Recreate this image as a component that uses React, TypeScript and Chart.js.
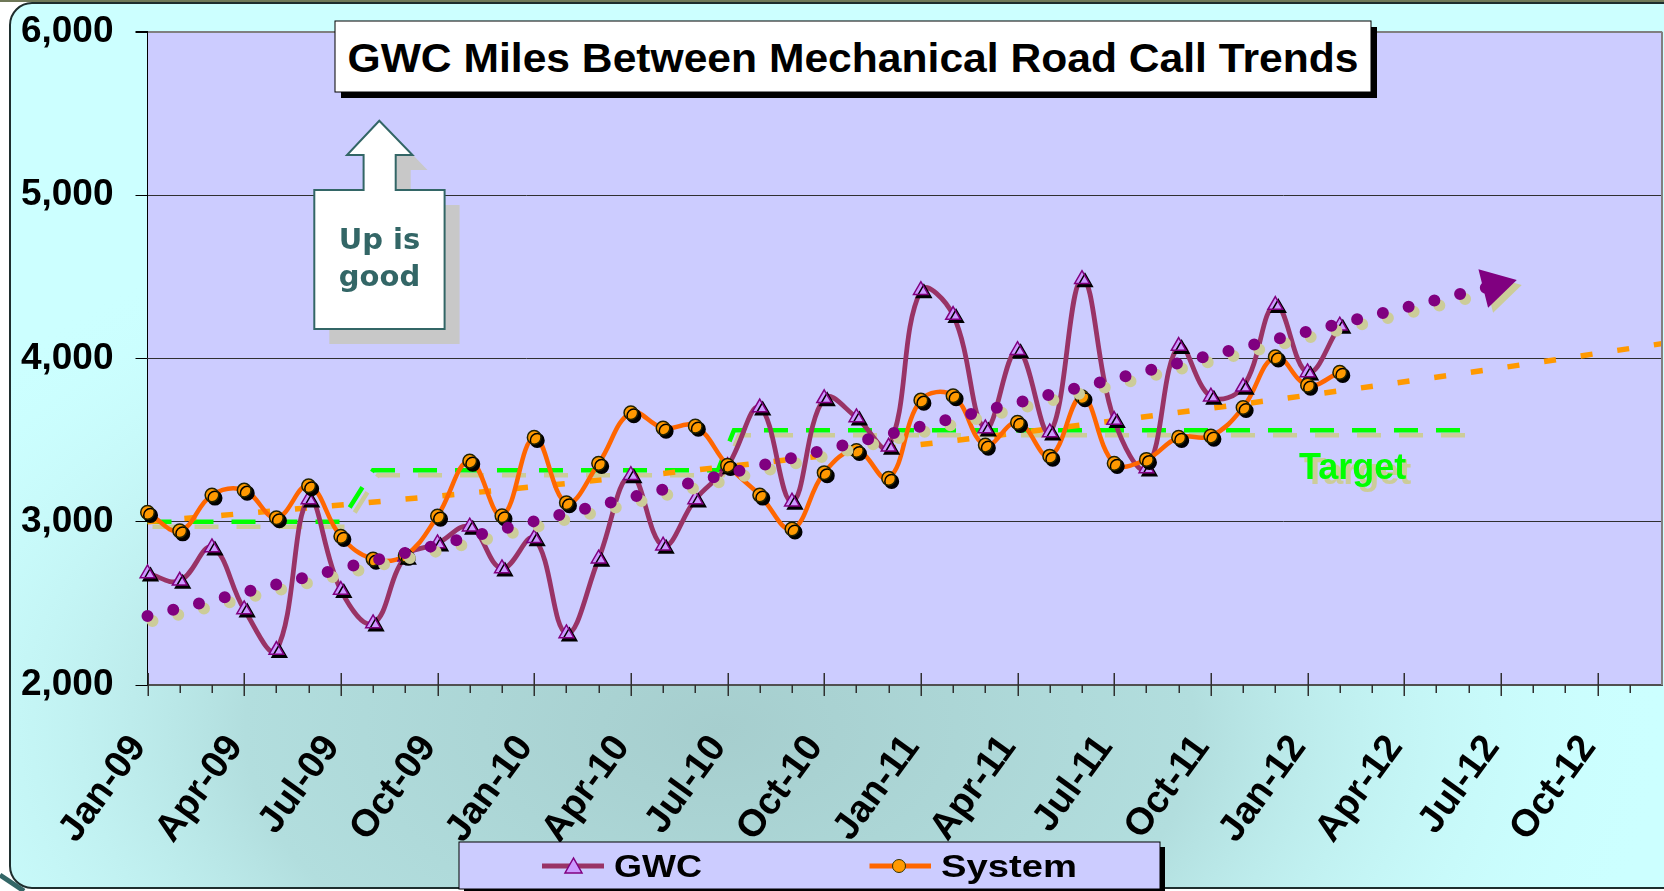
import React, { useEffect, useRef } from 'react';
import { Chart, registerables } from 'chart.js';

Chart.register(...registerables);

// ---------- data ----------
const months = [
  'Jan-09', 'Feb-09', 'Mar-09', 'Apr-09', 'May-09', 'Jun-09', 'Jul-09', 'Aug-09', 'Sep-09', 'Oct-09', 'Nov-09', 'Dec-09',
  'Jan-10', 'Feb-10', 'Mar-10', 'Apr-10', 'May-10', 'Jun-10', 'Jul-10', 'Aug-10', 'Sep-10', 'Oct-10', 'Nov-10', 'Dec-10',
  'Jan-11', 'Feb-11', 'Mar-11', 'Apr-11', 'May-11', 'Jun-11', 'Jul-11', 'Aug-11', 'Sep-11', 'Oct-11', 'Nov-11', 'Dec-11',
  'Jan-12', 'Feb-12', 'Mar-12', 'Apr-12', 'May-12', 'Jun-12', 'Jul-12', 'Aug-12', 'Sep-12', 'Oct-12', 'Nov-12', 'Dec-12',
];

const gwc = [
  2683, 2638, 2842, 2463, 2214, 3136, 2581, 2377, 2785, 2867, 2969, 2714,
  2898, 2316, 2773, 3285, 2853, 3136, 3340, 3699, 3122, 3755, 3638, 3458,
  4417, 4265, 3571, 4050, 3546, 4485, 3622, 3326, 4075, 3765, 3826, 4326,
  3914, 4200,
];

const system = [
  3057, 2944, 3163, 3193, 3024, 3220, 2910, 2771, 2794, 3034, 3371, 3036,
  3516, 3116, 3357, 3667, 3573, 3585, 3345, 3163, 2955, 3300, 3436, 3265,
  3744, 3771, 3469, 3608, 3401, 3765, 3357, 3381, 3516, 3524, 3699, 4009,
  3836, 3914,
];

// GWC trend (dotted purple, ends in an arrow head)
const gwcTrendX = [0, 41.8];
const gwcTrendY = [2422, 4445];

// System trend (dashed orange, gently curving)
const systemTrendX = [0, 6, 12, 18, 24, 30, 36, 42, 47];
const systemTrendY = [3000, 3102, 3214, 3338, 3472, 3618, 3774, 3942, 4090];

// Target (green dashed steps)
const targetX = [0, 6, 7, 17.7, 18.2, 41.2];
const targetY = [3000, 3000, 3315, 3315, 3560, 3560];

const yTicks = [2000, 3000, 4000, 5000, 6000];
const targetLabel = 'Target';
const targetLabelAt = { x: 37.4, y: 3259 };
const titleText = 'GWC Miles Between Mechanical Road Call Trends';
const legendNames = ['GWC', 'System'];

// ---------- styles ----------
const W = 1664;
const H = 891;
const FONT = "'Liberation Sans', Arial, Helvetica, sans-serif";
const BEIGE = '#CCCC99';

const pts = (xs: number[], ys: number[]) => xs.map((x, i) => ({ x, y: ys[i] }));
const seq = (ys: number[]) => ys.map((y, i) => ({ x: i, y }));
const fmt = (v: number) => String(v).replace(/\B(?=(\d{3})+(?!\d))/g, ',');

const shadowPlugin = {
  id: 'dsShadow',
  beforeDatasetDraw(chart: any, args: any) {
    const ds = chart.data.datasets[args.index];
    if (!ds.shadow) return;
    const ctx = chart.ctx;
    ctx.save();
    ctx.shadowColor = ds.shadow.color;
    ctx.shadowOffsetX = ds.shadow.x;
    ctx.shadowOffsetY = ds.shadow.y;
    ctx.shadowBlur = 0;
  },
  afterDatasetDraw(chart: any, args: any) {
    const ds = chart.data.datasets[args.index];
    if (!ds.shadow) return;
    chart.ctx.restore();
  },
};

const backgroundPlugin = {
  id: 'bg',
  beforeDraw(chart: any) {
    const { ctx, chartArea: a } = chart;
    ctx.save();
    ctx.fillStyle = '#ffffff';
    ctx.fillRect(0, 0, W, H);
    ctx.fillStyle = '#6F7858';
    ctx.fillRect(0, 0, W, 2);
    ctx.beginPath();
    ctx.roundRect(10, 3, 1700, 885, 22);
    ctx.save();
    ctx.clip();
    ctx.fillStyle = '#CCFFFF';
    ctx.fillRect(0, 0, W, H);
    ctx.translate(720, 730);
    ctx.scale(1, 0.6);
    const g = ctx.createRadialGradient(0, 0, 0, 0, 0, 950);
    g.addColorStop(0, '#A6CECE');
    g.addColorStop(0.5, '#B2DEDE');
    g.addColorStop(1, 'rgba(204,255,255,0)');
    ctx.fillStyle = g;
    ctx.fillRect(-1200, -2000, 2400, 4000);
    ctx.restore();
    ctx.lineWidth = 2;
    ctx.strokeStyle = '#1E2E2E';
    ctx.stroke();
    ctx.beginPath();
    ctx.moveTo(0, 875);
    ctx.lineTo(24, 891);
    ctx.lineWidth = 5;
    ctx.strokeStyle = '#336666';
    ctx.stroke();
    ctx.fillStyle = '#CCCCFF';
    ctx.fillRect(a.left, a.top, a.right - a.left, a.bottom - a.top);
    ctx.restore();
  },
};

const decorPlugin = {
  id: 'decor',
  afterDatasetsDraw(chart: any) {
    const { ctx, scales } = chart;
    const xs = scales.x;
    const ys = scales.y;
    ctx.save();
    ctx.font = `bold 36px ${FONT}`;
    ctx.textAlign = 'center';
    ctx.textBaseline = 'alphabetic';
    ctx.shadowColor = BEIGE;
    ctx.shadowOffsetX = 5;
    ctx.shadowOffsetY = 5;
    ctx.fillStyle = '#00FF00';
    ctx.fillText(targetLabel, xs.getPixelForValue(targetLabelAt.x), ys.getPixelForValue(targetLabelAt.y));
    ctx.restore();
  },
  afterDraw(chart: any) {
    const { ctx, chartArea: a, scales } = chart;
    const xs = scales.x;
    ctx.save();
    ctx.strokeStyle = '#808080';
    ctx.lineWidth = 2;
    ctx.beginPath();
    ctx.moveTo(a.right, a.top);
    ctx.lineTo(a.right, a.bottom);
    ctx.stroke();
    ctx.strokeStyle = '#303030';
    ctx.lineWidth = 1.5;
    for (let i = 0; i < months.length - 1; i++) {
      const px = Math.round(xs.getPixelForValue(i)) + 0.25;
      const major = i % 3 === 0;
      ctx.beginPath();
      ctx.moveTo(px, major ? a.bottom - 12 : a.bottom);
      ctx.lineTo(px, a.bottom + (major ? 11 : 8));
      ctx.stroke();
    }
    ctx.restore();
  },
};

export default function App() {
  const ref = useRef<HTMLCanvasElement | null>(null);

  useEffect(() => {
    if (!ref.current) return;
    const cfg: any = {
      type: 'line',
      data: {
        datasets: [
          {
            label: 'GWC trend',
            data: pts(gwcTrendX, gwcTrendY),
            borderColor: '#800080',
            borderWidth: 12,
            borderDash: [0, 26.5],
            borderCapStyle: 'round',
            tension: 0,
            pointStyle: ['circle', 'triangle'],
            pointRadius: [0, 23],
            pointRotation: [0, 76],
            pointBackgroundColor: '#800080',
            pointBorderColor: '#800080',
            pointBorderWidth: 0,
            clip: false,
            shadow: { color: BEIGE, x: 5, y: 5 },
          },
          {
            label: 'System markers',
            data: seq(system),
            showLine: false,
            pointStyle: 'circle',
            pointRadius: 6.8,
            pointBackgroundColor: '#FF9900',
            pointBorderColor: '#222200',
            pointBorderWidth: 1.5,
            clip: false,
            shadow: { color: '#000000', x: 3, y: 3 },
          },
          {
            label: 'GWC markers',
            data: seq(gwc),
            showLine: false,
            pointStyle: 'triangle',
            pointRadius: 8.5,
            pointBackgroundColor: '#CC99FF',
            pointBorderColor: '#800080',
            pointBorderWidth: 1.5,
            clip: false,
            shadow: { color: '#000000', x: 3, y: 3 },
          },
          {
            label: legendNames[1],
            data: seq(system),
            borderColor: '#FF6600',
            borderWidth: 4.5,
            tension: 0.4,
            pointRadius: 0,
            borderJoinStyle: 'round',
            clip: false,
          },
          {
            label: legendNames[0],
            data: seq(gwc),
            borderColor: '#993366',
            borderWidth: 4.8,
            tension: 0.4,
            pointRadius: 0,
            borderJoinStyle: 'round',
            clip: false,
          },
          {
            label: 'System trend',
            data: pts(systemTrendX, systemTrendY),
            borderColor: '#FF9900',
            borderWidth: 5.5,
            borderDash: [12, 25],
            cubicInterpolationMode: 'monotone',
            pointRadius: 0,
            clip: false,
          },
          {
            label: 'Target',
            data: pts(targetX, targetY),
            borderColor: '#00FF00',
            borderWidth: 4.5,
            borderDash: [24, 18],
            tension: 0,
            pointRadius: 0,
            clip: false,
            shadow: { color: BEIGE, x: 5, y: 5 },
          },
        ],
      },
      options: {
        responsive: false,
        animation: false,
        devicePixelRatio: 1,
        events: [],
        layout: { autoPadding: false, padding: { top: 31.7, right: 2, left: 0, bottom: 0 } },
        plugins: {
          legend: { display: false },
          title: { display: false },
          tooltip: { enabled: false },
        },
        scales: {
          x: {
            type: 'linear',
            min: 0,
            max: months.length - 1,
            afterBuildTicks: (s: any) => {
              s.ticks = months.map((_, i) => i).filter((i) => i % 3 === 0).map((v) => ({ value: v }));
            },
            ticks: {
              autoSkip: false,
              minRotation: 54,
              maxRotation: 54,
              padding: 42,
              labelOffset: -9,
              color: '#000',
              font: { family: FONT, size: 38, weight: 'bold' },
              callback: (v: any) => months[Math.round(Number(v))] ?? '',
            },
            grid: { display: false, drawTicks: false },
            border: { display: true, color: '#505050', width: 2 },
            afterFit: (s: any) => {
              s.height = 206;
              s.paddingLeft = 0;
              s.paddingRight = 0;
            },
          },
          y: {
            type: 'linear',
            min: 2000,
            max: 6000,
            afterBuildTicks: (s: any) => {
              s.ticks = yTicks.map((v) => ({ value: v }));
            },
            ticks: {
              color: '#000',
              padding: 22,
              font: { family: FONT, size: 37, weight: 'bold' },
              callback: (v: any) => fmt(Number(v)),
            },
            grid: {
              color: (c: any) => (c.tick && c.tick.value === 6000 ? '#808080' : '#303030'),
              lineWidth: (c: any) => (c.tick && c.tick.value === 6000 ? 2 : 1),
              tickLength: 12,
              tickColor: '#000',
            },
            border: { display: true, color: '#000', width: 1 },
            afterFit: (s: any) => {
              s.width = 147.5;
              s.paddingTop = 0;
              s.paddingBottom = 0;
            },
          },
        },
      },
      plugins: [backgroundPlugin, shadowPlugin, decorPlugin],
    };
    const chart = new Chart(ref.current, cfg);
    return () => chart.destroy();
  }, []);

  const arrowPath =
    'M314.3,190 L363.6,190 L363.6,155 L347,155 L379.3,120.7 L412.5,155 L395.7,155 L395.7,190 L444.6,190 L444.6,329 L314.3,329 Z';

  return (
    <div style={{ position: 'fixed', left: 0, top: 0, width: W, height: H, overflow: 'hidden', background: '#fff' }}>
      <canvas ref={ref} width={W} height={H} style={{ position: 'absolute', left: 0, top: 0, width: W, height: H }} />
      <svg width={W} height={H} style={{ position: 'absolute', left: 0, top: 0, pointerEvents: 'none' }}>
        <rect x={341} y={27} width={1036} height={71} fill="#000" />
        <rect x={335} y={21} width={1036} height={71} fill="#fff" stroke="#000" strokeWidth={1} />
        <text
          x={853}
          y={72}
          textAnchor="middle"
          fontFamily={FONT}
          fontWeight="bold"
          fontSize={41}
          textLength={1011}
          lengthAdjust="spacingAndGlyphs"
          fill="#000"
        >
          {titleText}
        </text>

        <path d={arrowPath} fill="#C8C8C8" transform="translate(15,15)" />
        <path d={arrowPath} fill="#fff" stroke="#336666" strokeWidth={2} />
        <text x={379.5} y={249} textAnchor="middle" fontFamily="'DejaVu Sans', Verdana, sans-serif" fontWeight="bold" fontSize={29} fill="#336666">
          Up is
        </text>
        <text x={379.5} y={286} textAnchor="middle" fontFamily="'DejaVu Sans', Verdana, sans-serif" fontWeight="bold" fontSize={29} fill="#336666">
          good
        </text>

        <rect x={464} y={847} width={701} height={47} fill="#000" />
        <rect x={459} y={842} width={701} height={47} fill="#CCCCFF" stroke="#000" strokeWidth={1} />
        <line x1={542} y1={866} x2={604} y2={866} stroke="#993366" strokeWidth={5} />
        <polygon points="573.5,858 565,873 582,873" fill="#CC99FF" stroke="#800080" strokeWidth={1.5} />
        <text x={614} y={877} fontFamily={FONT} fontWeight="bold" fontSize={32} textLength={88} lengthAdjust="spacingAndGlyphs" fill="#000">
          {legendNames[0]}
        </text>
        <line x1={869.5} y1={866} x2={931} y2={866} stroke="#FF6600" strokeWidth={5} />
        <circle cx={899} cy={866} r={6.5} fill="#FF9900" stroke="#333300" strokeWidth={1} />
        <text x={941} y={877} fontFamily={FONT} fontWeight="bold" fontSize={32} textLength={136} lengthAdjust="spacingAndGlyphs" fill="#000">
          {legendNames[1]}
        </text>
      </svg>
    </div>
  );
}
